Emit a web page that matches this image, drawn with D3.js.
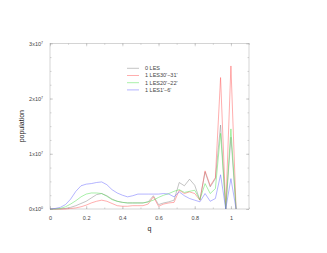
<!DOCTYPE html>
<html>
<head>
<meta charset="utf-8">
<script src="https://cdn.jsdelivr.net/npm/d3@7"></script>
<style>
body { margin: 0; background: #fff; }
svg { display: block; font-family: "Liberation Sans", Arial, sans-serif; }
</style>
</head>
<body>
<script>
// q sampled at i/35, population in units of 1e7
let q = d3.range(37).map(i => i / 35);
let les0 = [0, 0, 0, 0.01, 0.03, 0.06, 0.1, 0.14, 0.2, 0.26, 0.28, 0.24, 0.18, 0.14, 0.12, 0.11, 0.11, 0.11, 0.11, 0.13, 0.24, 0.08, 0.11, 0.13, 0.16, 0.48, 0.42, 0.54, 0.43, 0.16, 0.67, 0.40, 0.55, 1.52, 0, 1.3, 0];
let les30 = [0, 0, 0, 0, 0.01, 0.02, 0.04, 0.07, 0.11, 0.14, 0.16, 0.14, 0.10, 0.06, 0.05, 0.05, 0.06, 0.06, 0.06, 0.09, 0.22, 0.05, 0.09, 0.11, 0.12, 0.34, 0.28, 0.31, 0.28, 0.16, 0.69, 0.42, 0.57, 2.38, 0, 2.59, 0];
let les20 = [0, 0, 0.01, 0.04, 0.09, 0.15, 0.22, 0.27, 0.29, 0.29, 0.28, 0.23, 0.17, 0.14, 0.12, 0.11, 0.11, 0.11, 0.11, 0.13, 0.16, 0.21, 0.25, 0.28, 0.32, 0.35, 0.30, 0.32, 0.34, 0.17, 0.46, 0.28, 0.37, 1.37, 0, 1.45, 0];
let les1 = [0, 0.01, 0.03, 0.08, 0.18, 0.32, 0.42, 0.45, 0.46, 0.48, 0.49, 0.44, 0.35, 0.29, 0.25, 0.22, 0.24, 0.27, 0.27, 0.27, 0.27, 0.27, 0.28, 0.27, 0.22, 0.31, 0.24, 0.19, 0.16, 0.13, 0.28, 0.14, 0.19, 0.62, 0, 0.55, 0];

let seriesNames = ["0 LES", "1 LES30'\u221231'", "1 LES20'\u221222'", "1 LES1'\u22126'"];
let seriesValues = [les0, les30, les20, les1];
let colors = ["#888888", "#ff5c5c", "#55e055", "#6a6aff"];

let xTicks = [0, 0.2, 0.4, 0.6, 0.8, 1];
let yTicks = [0, 1, 2, 3];
let yExp = ["0", "7", "7", "7"];

let width = 327, height = 253;
let margin = {top: 43.3, right: 78, bottom: 44, left: 50};

let svg = d3.select("body").append("svg")
    .attr("width", width)
    .attr("height", height);

let x = d3.scaleLinear()
    .domain([0, 1.1])
    .range([margin.left, width - margin.right]);

let y = d3.scaleLinear()
    .domain([0, 3])
    .range([height - margin.bottom, margin.top]);

let axisColor = "#aaa";

let styleAxis = g => {
    g.select(".domain").remove();
    g.selectAll("line").attr("stroke", axisColor).attr("stroke-width", 0.5);
    g.selectAll("text").attr("fill", "#444").attr("font-size", 5.5);
};

let xMinor = d3.range(0, 1.11, 0.1);
let yMinor = d3.range(0, 3.01, 0.25);

// bottom
svg.append("g")
    .attr("transform", `translate(0,${y(0)})`)
    .call(d3.axisBottom(x).tickValues(xMinor).tickSize(-1.5).tickFormat(""))
    .call(styleAxis);
svg.append("g")
    .attr("transform", `translate(0,${y(0)})`)
    .call(d3.axisBottom(x).tickValues(xTicks).tickSize(-3).tickPadding(7).tickFormat(d3.format("~g")))
    .call(styleAxis);
// top
svg.append("g")
    .attr("transform", `translate(0,${y(3)})`)
    .call(d3.axisTop(x).tickValues(xMinor).tickSize(-1.5).tickFormat(""))
    .call(styleAxis);
svg.append("g")
    .attr("transform", `translate(0,${y(3)})`)
    .call(d3.axisTop(x).tickValues(xTicks).tickSize(-3).tickFormat(""))
    .call(styleAxis);
// left
svg.append("g")
    .attr("transform", `translate(${x(0)},0)`)
    .call(d3.axisLeft(y).tickValues(yMinor).tickSize(-1.5).tickFormat(""))
    .call(styleAxis);
let yAxisG = svg.append("g")
    .attr("transform", `translate(${x(0)},0)`)
    .call(d3.axisLeft(y).tickValues(yTicks).tickSize(-3).tickPadding(7).tickFormat(d => d + "x10"))
    .call(styleAxis);
yAxisG.selectAll(".tick text").append("tspan")
    .attr("dy", -2)
    .attr("font-size", 3.5)
    .text((d, i) => yExp[i]);
// right
svg.append("g")
    .attr("transform", `translate(${x(1.1)},0)`)
    .call(d3.axisRight(y).tickValues(yMinor).tickSize(-1.5).tickFormat(""))
    .call(styleAxis);
svg.append("g")
    .attr("transform", `translate(${x(1.1)},0)`)
    .call(d3.axisRight(y).tickValues(yTicks).tickSize(-3).tickFormat(""))
    .call(styleAxis);

// frame
svg.append("rect")
    .attr("x", x(0))
    .attr("y", y(3))
    .attr("width", x(1.1) - x(0))
    .attr("height", y(0) - y(3))
    .attr("fill", "none")
    .attr("stroke", axisColor)
    .attr("stroke-width", 0.5);

let line = d3.line()
    .x((d, i) => x(q[i]))
    .y(d => y(d));

seriesValues.forEach((vals, k) => {
    svg.append("path")
        .datum(vals)
        .attr("fill", "none")
        .attr("stroke", colors[k])
        .attr("stroke-width", 0.5)
        .attr("stroke-linejoin", "round")
        .attr("d", line);
});

// legend
let legend = svg.append("g")
    .attr("font-size", 5.5)
    .attr("fill", "#444");
seriesNames.forEach((name, k) => {
    let ly = 68.3 + k * 7.2;
    legend.append("line")
        .attr("x1", 127).attr("x2", 139)
        .attr("y1", ly).attr("y2", ly)
        .attr("stroke", colors[k])
        .attr("stroke-width", 0.5);
    legend.append("text")
        .attr("x", 145)
        .attr("y", ly)
        .attr("dy", "0.35em")
        .text(name);
});

// axis titles
svg.append("text")
    .attr("x", (x(0) + x(1.1)) / 2)
    .attr("y", 231)
    .attr("text-anchor", "middle")
    .attr("font-size", 7)
    .attr("fill", "#222")
    .text("q");

svg.append("text")
    .attr("transform", `translate(24,${(y(0) + y(3)) / 2}) rotate(-90)`)
    .attr("text-anchor", "middle")
    .attr("font-size", 7)
    .attr("fill", "#222")
    .text("population");
</script>
</body>
</html>
